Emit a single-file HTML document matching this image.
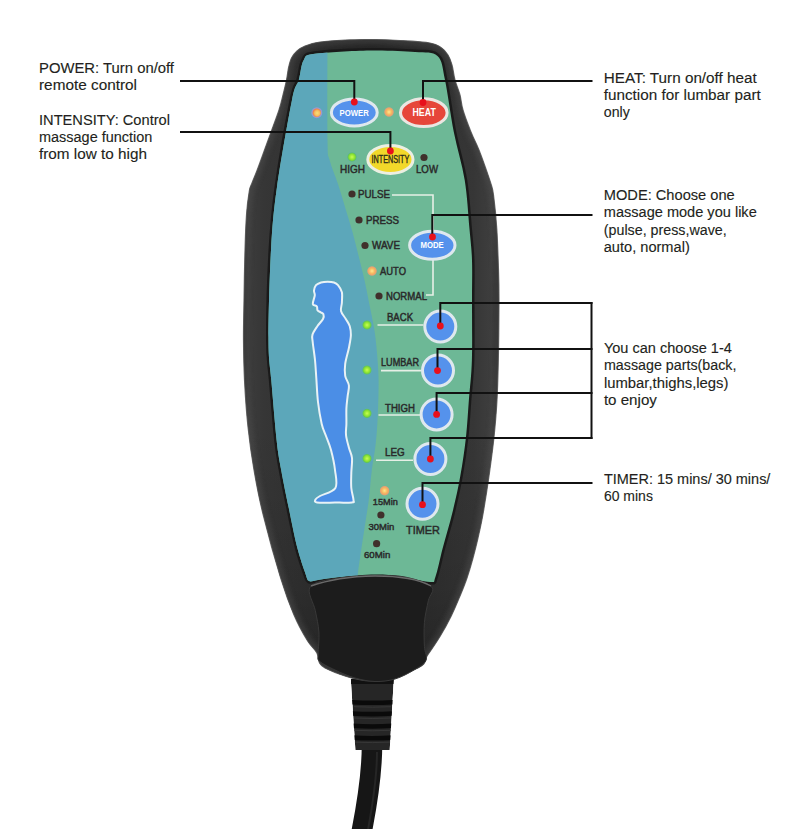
<!DOCTYPE html>
<html><head><meta charset="utf-8"><style>
html,body{margin:0;padding:0;background:#fff;}
svg{display:block;font-family:"Liberation Sans",sans-serif;}
</style></head><body>
<svg width="800" height="829" viewBox="0 0 800 829">
<rect width="800" height="829" fill="#fff"/>
<defs>
<clipPath id="pc"><path d="M370.0,50.5 C386.7,50.2 403.8,51.1 415.0,52.0 C426.2,52.9 432.5,51.3 437.5,56.0 C442.5,60.7 442.3,67.3 445.0,80.0 C447.7,92.7 450.5,115.3 453.8,132.0 C457.1,148.7 462.1,163.8 464.7,180.0 C467.3,196.2 468.3,215.7 469.5,229.0 C470.7,242.3 471.6,248.2 472.0,260.0 C472.4,271.8 472.0,283.3 472.0,300.0 C472.0,316.7 472.4,343.6 471.9,360.0 C471.4,376.4 470.0,385.8 469.0,398.6 C468.0,411.4 467.4,424.1 466.0,437.0 C464.6,449.9 462.6,463.4 460.3,476.0 C458.1,488.6 455.4,500.2 452.5,512.3 C449.6,524.4 445.5,537.7 442.6,548.5 C439.8,559.3 437.5,571.4 435.4,577.0 C433.3,582.6 435.9,582.1 430.0,582.0 C424.1,581.9 409.2,577.8 400.0,576.5 C390.8,575.2 385.0,574.4 375.0,574.5 C365.0,574.6 349.5,576.1 340.0,577.0 C330.5,577.9 323.2,579.3 318.0,580.0 C312.8,580.7 311.1,582.1 309.0,581.0 C306.9,579.9 307.4,579.1 305.4,573.5 C303.4,567.9 299.9,557.9 297.1,547.1 C294.4,536.3 291.5,521.5 288.9,508.6 C286.2,495.8 283.2,481.4 281.2,470.0 C279.1,458.6 278.2,455.0 276.6,440.0 C275.0,425.0 272.7,396.7 271.3,380.0 C269.9,363.3 268.6,361.7 268.5,340.0 C268.4,318.3 269.6,275.5 271.0,250.0 C272.4,224.5 273.5,212.0 277.0,187.0 C280.5,162.0 288.4,117.8 292.0,100.0 C295.6,82.2 296.8,86.7 298.8,80.0 C300.7,73.3 301.0,64.4 303.8,60.0 C306.5,55.6 304.0,55.3 315.0,53.8 C326.0,52.2 353.3,50.8 370.0,50.5Z"/></clipPath>
<radialGradient id="gled" cx="50%" cy="50%" r="50%"><stop offset="0" stop-color="#c8ff50"/><stop offset="0.55" stop-color="#88e030"/><stop offset="0.75" stop-color="#60c060"/><stop offset="1" stop-color="#5aa8d0" stop-opacity="0"/></radialGradient>
<radialGradient id="oled" cx="50%" cy="50%" r="50%"><stop offset="0" stop-color="#ffe890"/><stop offset="0.5" stop-color="#f8b860"/><stop offset="0.8" stop-color="#e8a070"/><stop offset="1" stop-color="#e0a080" stop-opacity="0"/></radialGradient>
<linearGradient id="bodyg" x1="0" x2="1" y1="0" y2="0"><stop offset="0" stop-color="#2a2a2a"/><stop offset="0.02" stop-color="#3c3c3c"/><stop offset="0.08" stop-color="#363636"/><stop offset="0.5" stop-color="#2a2a2a"/><stop offset="0.9" stop-color="#363636"/><stop offset="0.97" stop-color="#3e3e3e"/><stop offset="1" stop-color="#262626"/></linearGradient>
<linearGradient id="bodyv" x1="0" x2="0" y1="0" y2="1"><stop offset="0" stop-color="#000" stop-opacity="0.15"/><stop offset="0.12" stop-color="#000" stop-opacity="0"/><stop offset="0.6" stop-color="#000" stop-opacity="0"/><stop offset="0.85" stop-color="#000" stop-opacity="0.1"/><stop offset="1" stop-color="#000" stop-opacity="0.25"/></linearGradient>
<pattern id="ht" patternUnits="userSpaceOnUse" width="3" height="3"><rect width="3" height="3" fill="#68bc9c"/><circle cx="1.5" cy="1.5" r="1.15" fill="#4a8ef0"/></pattern>
<radialGradient id="yled" cx="55%" cy="55%" r="50%"><stop offset="0" stop-color="#f8e078"/><stop offset="0.6" stop-color="#f4c060"/><stop offset="1" stop-color="#f08048"/></radialGradient>
</defs>
<path d="M372,745 C372,768 369,795 361,835" stroke="#161616" stroke-width="20.5" fill="none"/>
<path d="M377,752 C377,772 374,798 367,835" stroke="#262626" stroke-width="2" fill="none"/>
<clipPath id="src"><path d="M350.8,679 L393.8,679 L389.7,750 L355.4,750 Z"/></clipPath>
<g clip-path="url(#src)">
<path d="M350.8,679 L393.8,679 L389.7,750 L355.4,750 Z" fill="#262626"/>
<rect x="351" y="679" width="43" height="5" fill="#111"/>
<path d="M352,699.9000000000001 Q372,701.2 393,699.9000000000001 L393,704.5 Q372,705.7 352,704.5 Z" fill="#0a0a0a"/>
<path d="M354,706.7 Q372,707.7 391,706.7" stroke="#3c3c3c" stroke-width="0.8" fill="none"/>
<path d="M352,711.2 Q372,712.5 393,711.2 L393,715.8 Q372,717.0 352,715.8 Z" fill="#0a0a0a"/>
<path d="M354,718.0 Q372,719.0 391,718.0" stroke="#3c3c3c" stroke-width="0.8" fill="none"/>
<path d="M352,723.5 Q372,724.8 393,723.5 L393,728.0999999999999 Q372,729.3 352,728.0999999999999 Z" fill="#0a0a0a"/>
<path d="M354,730.3 Q372,731.3 391,730.3" stroke="#3c3c3c" stroke-width="0.8" fill="none"/>
<path d="M352,735.3000000000001 Q372,736.6 393,735.3000000000001 L393,739.9 Q372,741.1 352,739.9 Z" fill="#0a0a0a"/>
<path d="M354,742.1 Q372,743.1 391,742.1" stroke="#3c3c3c" stroke-width="0.8" fill="none"/>
</g>
<path d="M370.0,39.5 C379.2,39.6 390.0,39.9 400.0,40.5 C410.0,41.1 423.2,41.8 430.0,43.0 C436.8,44.2 438.0,45.5 441.0,47.5 C444.0,49.5 446.2,52.1 448.0,55.0 C449.8,57.9 450.8,60.8 452.0,65.0 C453.2,69.2 453.7,75.0 455.0,80.0 C456.3,85.0 458.7,90.0 460.0,95.0 C461.3,100.0 461.2,103.8 463.0,110.0 C464.8,116.2 468.3,125.3 471.0,132.0 C473.7,138.7 476.3,143.3 479.0,150.0 C481.7,156.7 485.0,166.3 487.0,172.0 C489.0,177.7 489.9,180.2 491.0,184.0 C492.1,187.8 492.5,187.5 493.5,195.0 C494.5,202.5 496.0,216.5 496.8,229.0 C497.6,241.5 498.1,258.2 498.5,270.0 C498.9,281.8 499.0,286.7 499.0,300.0 C499.0,313.3 498.8,333.3 498.5,350.0 C498.2,366.7 497.8,385.5 497.0,400.0 C496.2,414.5 495.3,424.3 494.0,437.0 C492.7,449.7 490.8,463.2 489.0,476.0 C487.2,488.8 484.8,503.7 483.0,514.0 C481.2,524.3 479.7,530.7 478.0,538.0 C476.3,545.3 474.8,551.3 473.0,558.0 C471.2,564.7 469.2,571.5 467.0,578.0 C464.8,584.5 462.3,590.6 459.6,597.0 C456.9,603.4 454.2,610.0 451.0,616.5 C447.8,623.0 444.2,629.6 440.3,636.0 C436.4,642.4 431.4,649.7 427.7,655.0 C424.0,660.3 427.4,663.7 418.0,668.0 C408.6,672.3 386.5,681.0 371.0,681.0 C355.5,681.0 334.1,672.7 325.0,668.0 C315.9,663.3 319.7,657.3 316.7,652.6 C313.7,647.9 310.8,646.3 307.0,640.0 C303.2,633.7 298.3,625.2 294.0,615.0 C289.7,604.8 286.2,595.8 281.0,579.0 C275.8,562.2 267.5,532.2 263.0,514.0 C258.5,495.8 256.5,484.5 254.0,470.0 C251.5,455.5 249.6,442.0 248.0,427.0 C246.4,412.0 245.2,394.5 244.5,380.0 C243.8,365.5 243.6,353.3 243.5,340.0 C243.4,326.7 243.8,315.0 244.0,300.0 C244.2,285.0 244.6,264.2 245.0,250.0 C245.4,235.8 245.8,224.8 246.5,215.0 C247.2,205.2 248.4,196.3 249.3,191.0 C250.2,185.7 250.7,186.5 252.0,183.0 C253.3,179.5 255.1,175.5 257.2,170.0 C259.3,164.5 262.1,156.7 264.5,150.0 C266.9,143.3 269.4,136.7 271.8,130.0 C274.2,123.3 277.1,115.8 279.0,110.0 C280.9,104.2 281.8,100.0 283.0,95.0 C284.2,90.0 285.6,84.5 286.5,80.0 C287.4,75.5 287.7,71.7 288.5,68.0 C289.3,64.3 290.1,60.8 291.5,58.0 C292.9,55.2 294.8,53.0 297.0,51.0 C299.2,49.0 301.2,47.5 305.0,46.0 C308.8,44.5 313.3,43.0 320.0,42.0 C326.7,41.0 336.7,40.4 345.0,40.0 C353.3,39.6 360.8,39.4 370.0,39.5Z" fill="url(#bodyg)"/>
<path d="M370.0,39.5 C379.2,39.6 390.0,39.9 400.0,40.5 C410.0,41.1 423.2,41.8 430.0,43.0 C436.8,44.2 438.0,45.5 441.0,47.5 C444.0,49.5 446.2,52.1 448.0,55.0 C449.8,57.9 450.8,60.8 452.0,65.0 C453.2,69.2 453.7,75.0 455.0,80.0 C456.3,85.0 458.7,90.0 460.0,95.0 C461.3,100.0 461.2,103.8 463.0,110.0 C464.8,116.2 468.3,125.3 471.0,132.0 C473.7,138.7 476.3,143.3 479.0,150.0 C481.7,156.7 485.0,166.3 487.0,172.0 C489.0,177.7 489.9,180.2 491.0,184.0 C492.1,187.8 492.5,187.5 493.5,195.0 C494.5,202.5 496.0,216.5 496.8,229.0 C497.6,241.5 498.1,258.2 498.5,270.0 C498.9,281.8 499.0,286.7 499.0,300.0 C499.0,313.3 498.8,333.3 498.5,350.0 C498.2,366.7 497.8,385.5 497.0,400.0 C496.2,414.5 495.3,424.3 494.0,437.0 C492.7,449.7 490.8,463.2 489.0,476.0 C487.2,488.8 484.8,503.7 483.0,514.0 C481.2,524.3 479.7,530.7 478.0,538.0 C476.3,545.3 474.8,551.3 473.0,558.0 C471.2,564.7 469.2,571.5 467.0,578.0 C464.8,584.5 462.3,590.6 459.6,597.0 C456.9,603.4 454.2,610.0 451.0,616.5 C447.8,623.0 444.2,629.6 440.3,636.0 C436.4,642.4 431.4,649.7 427.7,655.0 C424.0,660.3 427.4,663.7 418.0,668.0 C408.6,672.3 386.5,681.0 371.0,681.0 C355.5,681.0 334.1,672.7 325.0,668.0 C315.9,663.3 319.7,657.3 316.7,652.6 C313.7,647.9 310.8,646.3 307.0,640.0 C303.2,633.7 298.3,625.2 294.0,615.0 C289.7,604.8 286.2,595.8 281.0,579.0 C275.8,562.2 267.5,532.2 263.0,514.0 C258.5,495.8 256.5,484.5 254.0,470.0 C251.5,455.5 249.6,442.0 248.0,427.0 C246.4,412.0 245.2,394.5 244.5,380.0 C243.8,365.5 243.6,353.3 243.5,340.0 C243.4,326.7 243.8,315.0 244.0,300.0 C244.2,285.0 244.6,264.2 245.0,250.0 C245.4,235.8 245.8,224.8 246.5,215.0 C247.2,205.2 248.4,196.3 249.3,191.0 C250.2,185.7 250.7,186.5 252.0,183.0 C253.3,179.5 255.1,175.5 257.2,170.0 C259.3,164.5 262.1,156.7 264.5,150.0 C266.9,143.3 269.4,136.7 271.8,130.0 C274.2,123.3 277.1,115.8 279.0,110.0 C280.9,104.2 281.8,100.0 283.0,95.0 C284.2,90.0 285.6,84.5 286.5,80.0 C287.4,75.5 287.7,71.7 288.5,68.0 C289.3,64.3 290.1,60.8 291.5,58.0 C292.9,55.2 294.8,53.0 297.0,51.0 C299.2,49.0 301.2,47.5 305.0,46.0 C308.8,44.5 313.3,43.0 320.0,42.0 C326.7,41.0 336.7,40.4 345.0,40.0 C353.3,39.6 360.8,39.4 370.0,39.5Z" fill="url(#bodyv)"/>
<clipPath id="oc"><path d="M370.0,39.5 C379.2,39.6 390.0,39.9 400.0,40.5 C410.0,41.1 423.2,41.8 430.0,43.0 C436.8,44.2 438.0,45.5 441.0,47.5 C444.0,49.5 446.2,52.1 448.0,55.0 C449.8,57.9 450.8,60.8 452.0,65.0 C453.2,69.2 453.7,75.0 455.0,80.0 C456.3,85.0 458.7,90.0 460.0,95.0 C461.3,100.0 461.2,103.8 463.0,110.0 C464.8,116.2 468.3,125.3 471.0,132.0 C473.7,138.7 476.3,143.3 479.0,150.0 C481.7,156.7 485.0,166.3 487.0,172.0 C489.0,177.7 489.9,180.2 491.0,184.0 C492.1,187.8 492.5,187.5 493.5,195.0 C494.5,202.5 496.0,216.5 496.8,229.0 C497.6,241.5 498.1,258.2 498.5,270.0 C498.9,281.8 499.0,286.7 499.0,300.0 C499.0,313.3 498.8,333.3 498.5,350.0 C498.2,366.7 497.8,385.5 497.0,400.0 C496.2,414.5 495.3,424.3 494.0,437.0 C492.7,449.7 490.8,463.2 489.0,476.0 C487.2,488.8 484.8,503.7 483.0,514.0 C481.2,524.3 479.7,530.7 478.0,538.0 C476.3,545.3 474.8,551.3 473.0,558.0 C471.2,564.7 469.2,571.5 467.0,578.0 C464.8,584.5 462.3,590.6 459.6,597.0 C456.9,603.4 454.2,610.0 451.0,616.5 C447.8,623.0 444.2,629.6 440.3,636.0 C436.4,642.4 431.4,649.7 427.7,655.0 C424.0,660.3 427.4,663.7 418.0,668.0 C408.6,672.3 386.5,681.0 371.0,681.0 C355.5,681.0 334.1,672.7 325.0,668.0 C315.9,663.3 319.7,657.3 316.7,652.6 C313.7,647.9 310.8,646.3 307.0,640.0 C303.2,633.7 298.3,625.2 294.0,615.0 C289.7,604.8 286.2,595.8 281.0,579.0 C275.8,562.2 267.5,532.2 263.0,514.0 C258.5,495.8 256.5,484.5 254.0,470.0 C251.5,455.5 249.6,442.0 248.0,427.0 C246.4,412.0 245.2,394.5 244.5,380.0 C243.8,365.5 243.6,353.3 243.5,340.0 C243.4,326.7 243.8,315.0 244.0,300.0 C244.2,285.0 244.6,264.2 245.0,250.0 C245.4,235.8 245.8,224.8 246.5,215.0 C247.2,205.2 248.4,196.3 249.3,191.0 C250.2,185.7 250.7,186.5 252.0,183.0 C253.3,179.5 255.1,175.5 257.2,170.0 C259.3,164.5 262.1,156.7 264.5,150.0 C266.9,143.3 269.4,136.7 271.8,130.0 C274.2,123.3 277.1,115.8 279.0,110.0 C280.9,104.2 281.8,100.0 283.0,95.0 C284.2,90.0 285.6,84.5 286.5,80.0 C287.4,75.5 287.7,71.7 288.5,68.0 C289.3,64.3 290.1,60.8 291.5,58.0 C292.9,55.2 294.8,53.0 297.0,51.0 C299.2,49.0 301.2,47.5 305.0,46.0 C308.8,44.5 313.3,43.0 320.0,42.0 C326.7,41.0 336.7,40.4 345.0,40.0 C353.3,39.6 360.8,39.4 370.0,39.5Z"/></clipPath>
<filter id="bl" x="-10%" y="-10%" width="120%" height="120%"><feGaussianBlur stdDeviation="2.5"/></filter>
<g clip-path="url(#oc)"><path d="M370.0,39.5 C379.2,39.6 390.0,39.9 400.0,40.5 C410.0,41.1 423.2,41.8 430.0,43.0 C436.8,44.2 438.0,45.5 441.0,47.5 C444.0,49.5 446.2,52.1 448.0,55.0 C449.8,57.9 450.8,60.8 452.0,65.0 C453.2,69.2 453.7,75.0 455.0,80.0 C456.3,85.0 458.7,90.0 460.0,95.0 C461.3,100.0 461.2,103.8 463.0,110.0 C464.8,116.2 468.3,125.3 471.0,132.0 C473.7,138.7 476.3,143.3 479.0,150.0 C481.7,156.7 485.0,166.3 487.0,172.0 C489.0,177.7 489.9,180.2 491.0,184.0 C492.1,187.8 492.5,187.5 493.5,195.0 C494.5,202.5 496.0,216.5 496.8,229.0 C497.6,241.5 498.1,258.2 498.5,270.0 C498.9,281.8 499.0,286.7 499.0,300.0 C499.0,313.3 498.8,333.3 498.5,350.0 C498.2,366.7 497.8,385.5 497.0,400.0 C496.2,414.5 495.3,424.3 494.0,437.0 C492.7,449.7 490.8,463.2 489.0,476.0 C487.2,488.8 484.8,503.7 483.0,514.0 C481.2,524.3 479.7,530.7 478.0,538.0 C476.3,545.3 474.8,551.3 473.0,558.0 C471.2,564.7 469.2,571.5 467.0,578.0 C464.8,584.5 462.3,590.6 459.6,597.0 C456.9,603.4 454.2,610.0 451.0,616.5 C447.8,623.0 444.2,629.6 440.3,636.0 C436.4,642.4 431.4,649.7 427.7,655.0 C424.0,660.3 427.4,663.7 418.0,668.0 C408.6,672.3 386.5,681.0 371.0,681.0 C355.5,681.0 334.1,672.7 325.0,668.0 C315.9,663.3 319.7,657.3 316.7,652.6 C313.7,647.9 310.8,646.3 307.0,640.0 C303.2,633.7 298.3,625.2 294.0,615.0 C289.7,604.8 286.2,595.8 281.0,579.0 C275.8,562.2 267.5,532.2 263.0,514.0 C258.5,495.8 256.5,484.5 254.0,470.0 C251.5,455.5 249.6,442.0 248.0,427.0 C246.4,412.0 245.2,394.5 244.5,380.0 C243.8,365.5 243.6,353.3 243.5,340.0 C243.4,326.7 243.8,315.0 244.0,300.0 C244.2,285.0 244.6,264.2 245.0,250.0 C245.4,235.8 245.8,224.8 246.5,215.0 C247.2,205.2 248.4,196.3 249.3,191.0 C250.2,185.7 250.7,186.5 252.0,183.0 C253.3,179.5 255.1,175.5 257.2,170.0 C259.3,164.5 262.1,156.7 264.5,150.0 C266.9,143.3 269.4,136.7 271.8,130.0 C274.2,123.3 277.1,115.8 279.0,110.0 C280.9,104.2 281.8,100.0 283.0,95.0 C284.2,90.0 285.6,84.5 286.5,80.0 C287.4,75.5 287.7,71.7 288.5,68.0 C289.3,64.3 290.1,60.8 291.5,58.0 C292.9,55.2 294.8,53.0 297.0,51.0 C299.2,49.0 301.2,47.5 305.0,46.0 C308.8,44.5 313.3,43.0 320.0,42.0 C326.7,41.0 336.7,40.4 345.0,40.0 C353.3,39.6 360.8,39.4 370.0,39.5Z" fill="none" stroke="#505050" stroke-width="9" opacity="0.45" filter="url(#bl)" transform="translate(0,0)"/></g>
<path d="M370.0,39.5 C379.2,39.6 390.0,39.9 400.0,40.5 C410.0,41.1 423.2,41.8 430.0,43.0 C436.8,44.2 438.0,45.5 441.0,47.5 C444.0,49.5 446.2,52.1 448.0,55.0 C449.8,57.9 450.8,60.8 452.0,65.0 C453.2,69.2 453.7,75.0 455.0,80.0 C456.3,85.0 458.7,90.0 460.0,95.0 C461.3,100.0 461.2,103.8 463.0,110.0 C464.8,116.2 468.3,125.3 471.0,132.0 C473.7,138.7 476.3,143.3 479.0,150.0 C481.7,156.7 485.0,166.3 487.0,172.0 C489.0,177.7 489.9,180.2 491.0,184.0 C492.1,187.8 492.5,187.5 493.5,195.0 C494.5,202.5 496.0,216.5 496.8,229.0 C497.6,241.5 498.1,258.2 498.5,270.0 C498.9,281.8 499.0,286.7 499.0,300.0 C499.0,313.3 498.8,333.3 498.5,350.0 C498.2,366.7 497.8,385.5 497.0,400.0 C496.2,414.5 495.3,424.3 494.0,437.0 C492.7,449.7 490.8,463.2 489.0,476.0 C487.2,488.8 484.8,503.7 483.0,514.0 C481.2,524.3 479.7,530.7 478.0,538.0 C476.3,545.3 474.8,551.3 473.0,558.0 C471.2,564.7 469.2,571.5 467.0,578.0 C464.8,584.5 462.3,590.6 459.6,597.0 C456.9,603.4 454.2,610.0 451.0,616.5 C447.8,623.0 444.2,629.6 440.3,636.0 C436.4,642.4 431.4,649.7 427.7,655.0 C424.0,660.3 427.4,663.7 418.0,668.0 C408.6,672.3 386.5,681.0 371.0,681.0 C355.5,681.0 334.1,672.7 325.0,668.0 C315.9,663.3 319.7,657.3 316.7,652.6 C313.7,647.9 310.8,646.3 307.0,640.0 C303.2,633.7 298.3,625.2 294.0,615.0 C289.7,604.8 286.2,595.8 281.0,579.0 C275.8,562.2 267.5,532.2 263.0,514.0 C258.5,495.8 256.5,484.5 254.0,470.0 C251.5,455.5 249.6,442.0 248.0,427.0 C246.4,412.0 245.2,394.5 244.5,380.0 C243.8,365.5 243.6,353.3 243.5,340.0 C243.4,326.7 243.8,315.0 244.0,300.0 C244.2,285.0 244.6,264.2 245.0,250.0 C245.4,235.8 245.8,224.8 246.5,215.0 C247.2,205.2 248.4,196.3 249.3,191.0 C250.2,185.7 250.7,186.5 252.0,183.0 C253.3,179.5 255.1,175.5 257.2,170.0 C259.3,164.5 262.1,156.7 264.5,150.0 C266.9,143.3 269.4,136.7 271.8,130.0 C274.2,123.3 277.1,115.8 279.0,110.0 C280.9,104.2 281.8,100.0 283.0,95.0 C284.2,90.0 285.6,84.5 286.5,80.0 C287.4,75.5 287.7,71.7 288.5,68.0 C289.3,64.3 290.1,60.8 291.5,58.0 C292.9,55.2 294.8,53.0 297.0,51.0 C299.2,49.0 301.2,47.5 305.0,46.0 C308.8,44.5 313.3,43.0 320.0,42.0 C326.7,41.0 336.7,40.4 345.0,40.0 C353.3,39.6 360.8,39.4 370.0,39.5Z" fill="none" stroke="#4e4e4e" stroke-width="1.2" opacity="0.8"/>
<path d="M370.0,50.5 C386.7,50.2 403.8,51.1 415.0,52.0 C426.2,52.9 432.5,51.3 437.5,56.0 C442.5,60.7 442.3,67.3 445.0,80.0 C447.7,92.7 450.5,115.3 453.8,132.0 C457.1,148.7 462.1,163.8 464.7,180.0 C467.3,196.2 468.3,215.7 469.5,229.0 C470.7,242.3 471.6,248.2 472.0,260.0 C472.4,271.8 472.0,283.3 472.0,300.0 C472.0,316.7 472.4,343.6 471.9,360.0 C471.4,376.4 470.0,385.8 469.0,398.6 C468.0,411.4 467.4,424.1 466.0,437.0 C464.6,449.9 462.6,463.4 460.3,476.0 C458.1,488.6 455.4,500.2 452.5,512.3 C449.6,524.4 445.5,537.7 442.6,548.5 C439.8,559.3 437.5,571.4 435.4,577.0 C433.3,582.6 435.9,582.1 430.0,582.0 C424.1,581.9 409.2,577.8 400.0,576.5 C390.8,575.2 385.0,574.4 375.0,574.5 C365.0,574.6 349.5,576.1 340.0,577.0 C330.5,577.9 323.2,579.3 318.0,580.0 C312.8,580.7 311.1,582.1 309.0,581.0 C306.9,579.9 307.4,579.1 305.4,573.5 C303.4,567.9 299.9,557.9 297.1,547.1 C294.4,536.3 291.5,521.5 288.9,508.6 C286.2,495.8 283.2,481.4 281.2,470.0 C279.1,458.6 278.2,455.0 276.6,440.0 C275.0,425.0 272.7,396.7 271.3,380.0 C269.9,363.3 268.6,361.7 268.5,340.0 C268.4,318.3 269.6,275.5 271.0,250.0 C272.4,224.5 273.5,212.0 277.0,187.0 C280.5,162.0 288.4,117.8 292.0,100.0 C295.6,82.2 296.8,86.7 298.8,80.0 C300.7,73.3 301.0,64.4 303.8,60.0 C306.5,55.6 304.0,55.3 315.0,53.8 C326.0,52.2 353.3,50.8 370.0,50.5Z" fill="#111" stroke="#1a1a1a" stroke-width="5"/>
<g clip-path="url(#pc)">
<rect x="240" y="40" width="260" height="560" fill="#6db896"/>
<path d="M327.5,30.0 C327.5,48.3 327.1,118.3 327.5,140.0 C327.9,161.7 327.9,152.7 329.6,160.0 C331.4,167.3 335.4,176.0 338.0,184.0 C340.6,192.0 342.9,200.0 345.3,208.0 C347.7,216.0 350.3,224.0 352.5,232.0 C354.7,240.0 356.6,247.9 358.6,256.0 C360.6,264.1 362.8,272.4 364.6,280.5 C366.4,288.6 367.8,296.6 369.4,304.6 C371.0,312.6 372.9,320.6 374.2,328.7 C375.5,336.8 376.3,344.4 377.0,353.0 C377.7,361.6 378.5,369.7 378.6,380.0 C378.7,390.3 378.3,404.5 377.8,415.0 C377.3,425.5 376.8,433.7 375.8,443.0 C374.8,452.3 372.9,461.7 371.7,471.0 C370.5,480.3 370.1,489.7 368.9,499.0 C367.7,508.3 366.1,517.8 364.7,527.0 C363.3,536.2 361.8,546.2 360.6,554.0 C359.5,561.8 358.7,566.3 357.8,574.0 C356.9,581.7 381.3,592.3 355.0,600.0 C328.7,607.7 225.8,713.3 200.0,620.0 C174.2,526.7 200.0,136.7 200.0,40.0Z" fill="#5ca7ba"/>
</g>
<path d="M310.2,586.8 C314.0,581.4 327.6,579.9 338.4,578.0 C349.2,576.1 363.9,575.7 375.0,575.5 C386.1,575.3 395.6,575.1 405.0,577.0 C414.4,578.9 427.6,582.7 431.5,586.7 C435.4,590.7 429.5,594.8 428.3,600.8 C427.1,606.8 425.0,615.1 424.4,622.7 C423.8,630.3 424.1,640.0 424.4,646.3 C424.7,652.6 427.7,656.4 426.0,660.4 C424.3,664.4 419.2,666.9 414.0,670.0 C408.8,673.1 401.5,677.1 395.0,679.0 C388.5,680.9 381.7,681.7 375.0,681.5 C368.3,681.3 361.7,679.9 355.0,678.0 C348.3,676.1 340.9,672.8 335.0,670.0 C329.1,667.2 322.4,664.0 319.6,661.3 C316.8,658.6 318.3,658.9 318.2,654.0 C318.1,649.1 319.4,639.2 318.9,632.0 C318.4,624.8 316.8,618.1 315.3,610.6 C313.9,603.1 306.4,592.2 310.2,586.8Z" fill="#1c1c1c" stroke="#383838" stroke-width="1"/>
<path d="M311,586 C325,581 345,576.5 375,576 C400,576 420,580 431,586" stroke="#6a6a6a" stroke-width="1.4" fill="none"/>
<path d="M327.7,281.7 C329.9,281.7 332.3,281.9 334.0,282.5 C335.7,283.1 336.7,283.6 338.0,285.2 C339.3,286.8 341.2,289.4 341.9,292.3 C342.5,295.2 342.0,299.4 341.9,302.5 C341.8,305.6 340.4,308.2 341.0,311.0 C341.6,313.8 344.4,316.5 345.8,319.0 C347.2,321.5 348.9,323.3 349.7,326.0 C350.5,328.7 351.0,331.3 350.9,335.0 C350.8,338.7 349.8,343.2 348.9,348.0 C347.9,352.8 345.8,359.2 345.2,363.8 C344.6,368.4 344.6,372.2 345.2,375.8 C345.8,379.4 348.5,382.1 348.9,385.5 C349.3,388.9 348.0,392.5 347.6,396.3 C347.2,400.1 346.6,403.8 346.4,408.4 C346.2,413.0 346.5,419.6 346.4,424.0 C346.3,428.4 345.6,431.0 346.0,435.0 C346.4,439.0 348.0,444.2 349.0,448.0 C350.0,451.8 351.6,453.8 352.0,458.0 C352.4,462.2 351.4,468.0 351.3,473.0 C351.2,478.0 350.9,483.5 351.3,488.0 C351.7,492.5 353.4,497.6 353.5,500.0 C353.6,502.4 355.1,502.0 352.0,502.4 C348.9,502.8 340.8,502.6 335.0,502.6 C329.2,502.6 320.2,502.9 317.0,502.4 C313.8,501.9 315.0,500.6 315.5,499.5 C316.0,498.4 316.7,497.9 320.0,496.0 C323.3,494.1 332.9,492.3 335.4,488.0 C337.9,483.7 335.7,476.3 335.0,470.0 C334.3,463.7 332.5,455.7 331.0,450.0 C329.5,444.3 327.6,440.3 326.0,436.0 C324.4,431.7 323.0,429.7 321.7,424.0 C320.4,418.3 318.9,409.7 318.0,402.0 C317.1,394.3 316.8,385.0 316.3,378.0 C315.8,371.0 315.6,366.0 315.0,360.0 C314.4,354.0 313.1,346.2 312.7,342.0 C312.3,337.8 311.7,337.3 312.5,334.6 C313.3,331.9 315.8,328.6 317.5,326.0 C319.2,323.4 322.0,321.0 323.0,319.0 C324.0,317.0 323.8,315.3 323.4,314.2 C323.0,313.1 321.7,312.9 320.7,312.3 C319.7,311.7 318.1,311.3 317.5,310.3 C316.9,309.3 317.6,307.4 316.8,306.4 C316.0,305.3 313.1,305.8 312.8,304.0 C312.5,302.2 314.6,297.6 314.8,295.4 C315.0,293.2 313.8,292.4 314.0,290.7 C314.2,289.0 314.8,286.6 316.0,285.2 C317.2,283.8 319.1,283.1 321.0,282.5 C322.9,281.9 325.5,281.7 327.7,281.7Z" fill="#4b8ee6" stroke="#e8f2f6" stroke-width="2"/>
<path d="M392,195 H433 V230" stroke="#e6efe6" stroke-width="1.6" fill="none"/>
<path d="M433,260 V295 H426" stroke="#e6efe6" stroke-width="1.6" fill="none"/>
<path d="M377.5,325 H423.5" stroke="#e6efe6" stroke-width="1.6" fill="none"/>
<path d="M381,370.6 H421" stroke="#e6efe6" stroke-width="1.6" fill="none"/>
<path d="M378.5,415 H420" stroke="#e6efe6" stroke-width="1.6" fill="none"/>
<path d="M376,460.3 H413" stroke="#e6efe6" stroke-width="1.6" fill="none"/>
<circle cx="424" cy="157.5" r="3.6" fill="#40302c"/>
<circle cx="352" cy="194" r="3.6" fill="#40302c"/>
<circle cx="359" cy="220" r="3.6" fill="#40302c"/>
<circle cx="365" cy="245.5" r="3.6" fill="#40302c"/>
<circle cx="379" cy="296" r="3.6" fill="#40302c"/>
<circle cx="380.9" cy="515" r="3.6" fill="#40302c"/>
<circle cx="376.6" cy="543.7" r="3.6" fill="#40302c"/>
<circle cx="352" cy="157" r="5.5" fill="url(#gled)"/>
<circle cx="367" cy="325" r="5.5" fill="url(#gled)"/>
<circle cx="367" cy="370" r="5.5" fill="url(#gled)"/>
<circle cx="367" cy="413.4" r="5.5" fill="url(#gled)"/>
<circle cx="367" cy="458.5" r="5.5" fill="url(#gled)"/>
<circle cx="389" cy="112" r="5.2" fill="url(#oled)"/>
<circle cx="372" cy="271" r="5.2" fill="url(#oled)"/>
<circle cx="384.6" cy="490.7" r="5.2" fill="url(#oled)"/>
<circle cx="316.8" cy="112.7" r="5.5" fill="#c890e8" opacity="0.55"/>
<circle cx="316.8" cy="112.7" r="4.2" fill="url(#yled)"/>
<ellipse cx="354.3" cy="112.4" rx="22.9" ry="13.5" fill="#5592ec" stroke="#dfe8ee" stroke-width="3"/>
<ellipse cx="423.8" cy="112.7" rx="23.3" ry="13.9" fill="#e6463a" stroke="#ebe6e2" stroke-width="3"/>
<ellipse cx="390.4" cy="159.4" rx="22.6" ry="14" fill="#f2d82a" stroke="#ecefe2" stroke-width="3"/>
<ellipse cx="432.3" cy="245.3" rx="22.7" ry="14" fill="#5592ec" stroke="#dfe8ee" stroke-width="3"/>
<circle cx="440.3" cy="326.6" r="15.5" fill="#5592ec" stroke="#dfe8ee" stroke-width="3"/>
<circle cx="438" cy="370.6" r="15.5" fill="#5592ec" stroke="#dfe8ee" stroke-width="3"/>
<circle cx="436.6" cy="414.4" r="15.5" fill="#5592ec" stroke="#dfe8ee" stroke-width="3"/>
<circle cx="430.4" cy="459" r="15.5" fill="#5592ec" stroke="#dfe8ee" stroke-width="3"/>
<circle cx="422.5" cy="503.8" r="15.5" fill="#5592ec" stroke="#dfe8ee" stroke-width="3"/>
<text x="339.5" y="116" font-size="9.5" font-weight="bold" fill="#ffffff" text-anchor="start" textLength="29.25" lengthAdjust="spacingAndGlyphs" >POWER</text>
<text x="412.5" y="116.25" font-size="10.5" font-weight="bold" fill="#ffffff" text-anchor="start" textLength="23.25" lengthAdjust="spacingAndGlyphs" >HEAT</text>
<text x="371.5" y="162.5" font-size="10" font-weight="normal" fill="#2a2a18" text-anchor="start" textLength="37.8" lengthAdjust="spacingAndGlyphs" stroke="#2a2a18" stroke-width="0.35">INTENSITY</text>
<text x="420.5" y="248" font-size="8.5" font-weight="bold" fill="#ffffff" text-anchor="start" textLength="23.25" lengthAdjust="spacingAndGlyphs" >MODE</text>
<text x="340" y="172.5" font-size="10.5" font-weight="normal" fill="#2a2a2a" text-anchor="start" textLength="25" lengthAdjust="spacingAndGlyphs" stroke="#2a2a2a" stroke-width="0.45">HIGH</text>
<text x="416" y="172.5" font-size="10.5" font-weight="normal" fill="#2a2a2a" text-anchor="start" textLength="22" lengthAdjust="spacingAndGlyphs" stroke="#2a2a2a" stroke-width="0.45">LOW</text>
<text x="358" y="198" font-size="10" font-weight="normal" fill="#2a2a2a" text-anchor="start" textLength="32" lengthAdjust="spacingAndGlyphs" stroke="#2a2a2a" stroke-width="0.45">PULSE</text>
<text x="366" y="223.75" font-size="10" font-weight="normal" fill="#2a2a2a" text-anchor="start" textLength="33" lengthAdjust="spacingAndGlyphs" stroke="#2a2a2a" stroke-width="0.45">PRESS</text>
<text x="372" y="248.75" font-size="10" font-weight="normal" fill="#2a2a2a" text-anchor="start" textLength="28" lengthAdjust="spacingAndGlyphs" stroke="#2a2a2a" stroke-width="0.45">WAVE</text>
<text x="380" y="274.5" font-size="10" font-weight="normal" fill="#2a2a2a" text-anchor="start" textLength="26" lengthAdjust="spacingAndGlyphs" stroke="#2a2a2a" stroke-width="0.45">AUTO</text>
<text x="386" y="299.5" font-size="10" font-weight="normal" fill="#2a2a2a" text-anchor="start" textLength="41" lengthAdjust="spacingAndGlyphs" stroke="#2a2a2a" stroke-width="0.45">NORMAL</text>
<text x="387" y="321" font-size="10" font-weight="normal" fill="#2a2a2a" text-anchor="start" textLength="26" lengthAdjust="spacingAndGlyphs" stroke="#2a2a2a" stroke-width="0.45">BACK</text>
<text x="381" y="366" font-size="10" font-weight="normal" fill="#2a2a2a" text-anchor="start" textLength="38" lengthAdjust="spacingAndGlyphs" stroke="#2a2a2a" stroke-width="0.45">LUMBAR</text>
<text x="385" y="411.6" font-size="10" font-weight="normal" fill="#2a2a2a" text-anchor="start" textLength="30" lengthAdjust="spacingAndGlyphs" stroke="#2a2a2a" stroke-width="0.45">THIGH</text>
<text x="385" y="456" font-size="10" font-weight="normal" fill="#2a2a2a" text-anchor="start" textLength="19.7" lengthAdjust="spacingAndGlyphs" stroke="#2a2a2a" stroke-width="0.45">LEG</text>
<text x="406" y="533.8" font-size="11" font-weight="normal" fill="#2a2a2a" text-anchor="start" textLength="33.8" lengthAdjust="spacingAndGlyphs" stroke="#2a2a2a" stroke-width="0.45">TIMER</text>
<text x="372.8" y="504.7" font-size="9.5" font-weight="normal" fill="#2a2a2a" text-anchor="start" textLength="25" lengthAdjust="spacingAndGlyphs" stroke="#2a2a2a" stroke-width="0.45">15Min</text>
<text x="368.5" y="529.6" font-size="9.5" font-weight="normal" fill="#2a2a2a" text-anchor="start" textLength="25.9" lengthAdjust="spacingAndGlyphs" stroke="#2a2a2a" stroke-width="0.45">30Min</text>
<text x="364" y="557.8" font-size="9.5" font-weight="normal" fill="#2a2a2a" text-anchor="start" textLength="26.3" lengthAdjust="spacingAndGlyphs" stroke="#2a2a2a" stroke-width="0.45">60Min</text>
<path d="M180,81 H354.3 V102" stroke="#111" stroke-width="2" fill="none"/>
<path d="M180,132 H390.4 V151" stroke="#111" stroke-width="2" fill="none"/>
<path d="M592.5,81 H423 V102.5" stroke="#111" stroke-width="2" fill="none"/>
<path d="M592.5,215 H432.3 V237" stroke="#111" stroke-width="2" fill="none"/>
<path d="M592.5,303 H440.3 V326" stroke="#111" stroke-width="2" fill="none"/>
<path d="M592.5,349 H437.5 V370.6" stroke="#111" stroke-width="2" fill="none"/>
<path d="M592.5,393 H436.6 V414.4" stroke="#111" stroke-width="2" fill="none"/>
<path d="M592.5,438 H430.4 V459" stroke="#111" stroke-width="2" fill="none"/>
<path d="M591.5,302 V439" stroke="#111" stroke-width="2" fill="none"/>
<path d="M592.5,483 H422.5 V504.7" stroke="#111" stroke-width="2" fill="none"/>
<circle cx="354.3" cy="102" r="3.4" fill="#e8101c"/>
<circle cx="423" cy="102.5" r="3.4" fill="#e8101c"/>
<circle cx="390.4" cy="151" r="3.4" fill="#e8101c"/>
<circle cx="432.5" cy="237" r="3.4" fill="#e8101c"/>
<circle cx="440.3" cy="326" r="3.4" fill="#e8101c"/>
<circle cx="437.5" cy="370.6" r="3.4" fill="#e8101c"/>
<circle cx="436.6" cy="414.4" r="3.4" fill="#e8101c"/>
<circle cx="430.4" cy="459" r="3.4" fill="#e8101c"/>
<circle cx="422.5" cy="504.7" r="3.4" fill="#e8101c"/>
<text x="39" y="72.5" font-size="14" font-weight="normal" fill="#231f20" text-anchor="start" textLength="135" lengthAdjust="spacingAndGlyphs" stroke="#231f20" stroke-width="0.12">POWER: Turn on/off</text>
<text x="39" y="89.5" font-size="14" font-weight="normal" fill="#231f20" text-anchor="start" textLength="98" lengthAdjust="spacingAndGlyphs" stroke="#231f20" stroke-width="0.12">remote control</text>
<text x="39" y="124.5" font-size="14" font-weight="normal" fill="#231f20" text-anchor="start" textLength="131" lengthAdjust="spacingAndGlyphs" stroke="#231f20" stroke-width="0.12">INTENSITY: Control</text>
<text x="39" y="141.5" font-size="14" font-weight="normal" fill="#231f20" text-anchor="start" textLength="113.4" lengthAdjust="spacingAndGlyphs" stroke="#231f20" stroke-width="0.12">massage function</text>
<text x="39" y="158.5" font-size="14" font-weight="normal" fill="#231f20" text-anchor="start" textLength="108" lengthAdjust="spacingAndGlyphs" stroke="#231f20" stroke-width="0.12">from low to high</text>
<text x="603.75" y="82.5" font-size="14" font-weight="normal" fill="#231f20" text-anchor="start" textLength="153" lengthAdjust="spacingAndGlyphs" stroke="#231f20" stroke-width="0.12">HEAT: Turn on/off heat</text>
<text x="603.75" y="100" font-size="14" font-weight="normal" fill="#231f20" text-anchor="start" textLength="157" lengthAdjust="spacingAndGlyphs" stroke="#231f20" stroke-width="0.12">function for lumbar part</text>
<text x="603.75" y="117" font-size="14" font-weight="normal" fill="#231f20" text-anchor="start" textLength="26" lengthAdjust="spacingAndGlyphs" stroke="#231f20" stroke-width="0.12">only</text>
<text x="603.75" y="199.5" font-size="14" font-weight="normal" fill="#231f20" text-anchor="start" textLength="131" lengthAdjust="spacingAndGlyphs" stroke="#231f20" stroke-width="0.12">MODE: Choose one</text>
<text x="603.75" y="217" font-size="14" font-weight="normal" fill="#231f20" text-anchor="start" textLength="153" lengthAdjust="spacingAndGlyphs" stroke="#231f20" stroke-width="0.12">massage mode you like</text>
<text x="603.75" y="234.5" font-size="14" font-weight="normal" fill="#231f20" text-anchor="start" textLength="123" lengthAdjust="spacingAndGlyphs" stroke="#231f20" stroke-width="0.12">(pulse, press,wave,</text>
<text x="603.75" y="252" font-size="14" font-weight="normal" fill="#231f20" text-anchor="start" textLength="86" lengthAdjust="spacingAndGlyphs" stroke="#231f20" stroke-width="0.12">auto, normal)</text>
<text x="603.9" y="352.6" font-size="14" font-weight="normal" fill="#231f20" text-anchor="start" textLength="128" lengthAdjust="spacingAndGlyphs" stroke="#231f20" stroke-width="0.12">You can choose 1-4</text>
<text x="603.9" y="370.4" font-size="14" font-weight="normal" fill="#231f20" text-anchor="start" textLength="132.6" lengthAdjust="spacingAndGlyphs" stroke="#231f20" stroke-width="0.12">massage parts(back,</text>
<text x="603.9" y="387.6" font-size="14" font-weight="normal" fill="#231f20" text-anchor="start" textLength="124.6" lengthAdjust="spacingAndGlyphs" stroke="#231f20" stroke-width="0.12">lumbar,thighs,legs)</text>
<text x="603.9" y="404.9" font-size="14" font-weight="normal" fill="#231f20" text-anchor="start" textLength="53" lengthAdjust="spacingAndGlyphs" stroke="#231f20" stroke-width="0.12">to enjoy</text>
<text x="603.9" y="483.6" font-size="14" font-weight="normal" fill="#231f20" text-anchor="start" textLength="166.5" lengthAdjust="spacingAndGlyphs" stroke="#231f20" stroke-width="0.12">TIMER: 15 mins/ 30 mins/</text>
<text x="603.9" y="501.4" font-size="14" font-weight="normal" fill="#231f20" text-anchor="start" textLength="49" lengthAdjust="spacingAndGlyphs" stroke="#231f20" stroke-width="0.12">60 mins</text>
</svg>
</body></html>
